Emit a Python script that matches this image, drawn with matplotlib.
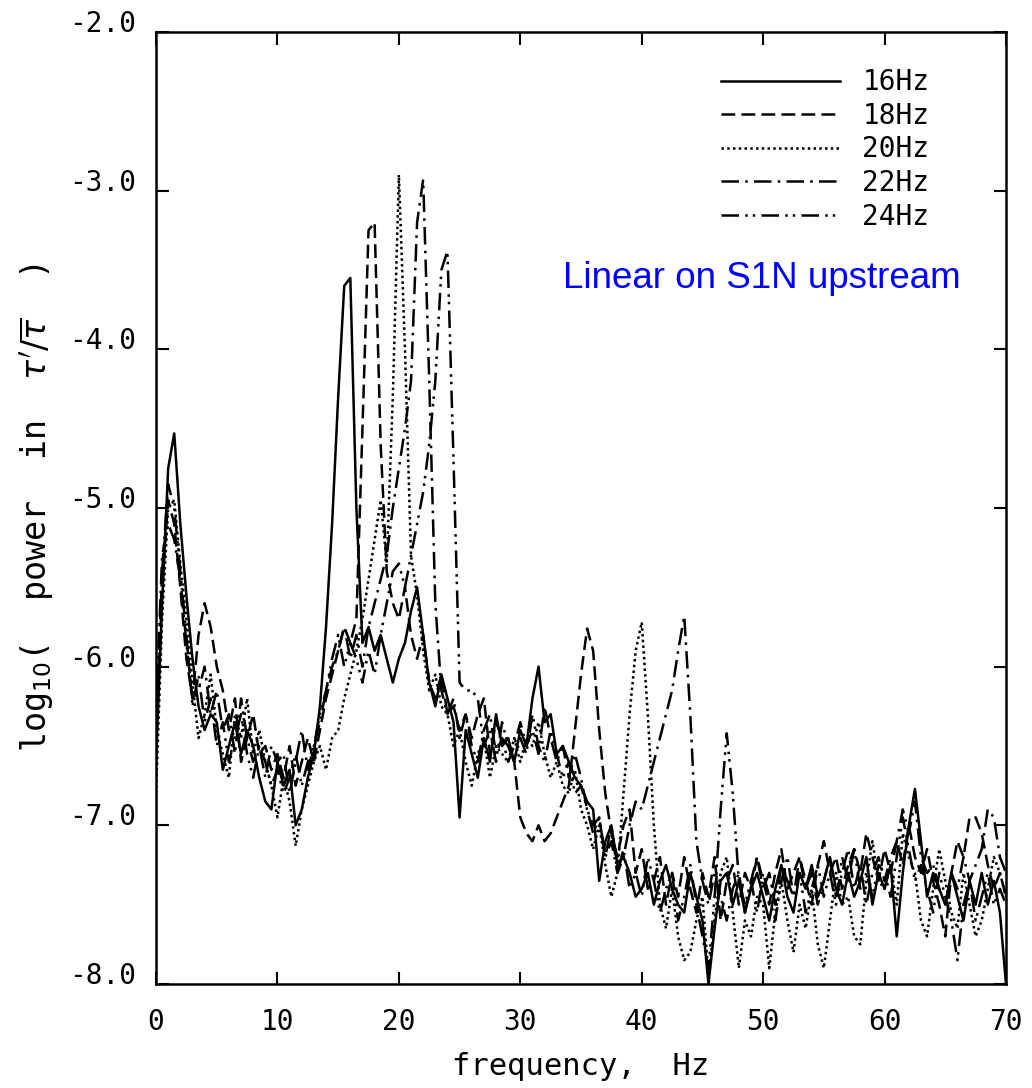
import numpy as np
from matplotlib import pyplot as plt

# frequency axis, 0.5 Hz steps from 0 to 70 Hz
freq = np.arange(0, 70.5, 0.5)

s16 = [-6.6, -5.6, -4.75, -4.53, -5.1, -5.55, -5.95, -6.25, -6.4, -6.3,
       -6.35, -6.65, -6.5, -6.35, -6.55, -6.4, -6.5, -6.7, -6.85, -6.9,
       -6.6, -6.75, -6.65, -7.0, -6.9, -6.7, -6.55, -6.25, -5.75, -5.1,
       -4.3, -3.6, -3.55, -5.0, -5.85, -5.75, -5.9, -5.8, -5.95, -6.1,
       -5.95, -5.85, -5.65, -5.5, -5.8, -6.1, -6.25, -6.05, -6.2, -6.35,
       -6.95, -6.4, -6.55, -6.7, -6.45, -6.6, -6.3, -6.5, -6.45, -6.6,
       -6.4, -6.5, -6.2, -6.0, -6.35, -6.3, -6.55, -6.5, -6.6, -6.7,
       -6.75, -6.85, -6.9, -7.35, -7.1, -7.0, -7.25, -7.2, -7.3, -7.45,
       -7.4, -7.3, -7.5, -7.35, -7.25, -7.4, -7.5, -7.55, -7.3, -7.45,
       -7.6, -8.0, -7.65, -7.35, -7.3, -7.5, -7.35, -7.55, -7.4, -7.3,
       -7.45, -7.6, -7.4, -7.25, -7.45, -7.55, -7.3, -7.4, -7.25, -7.45,
       -7.35, -7.2, -7.4, -7.5, -7.3, -7.45, -7.35, -7.2, -7.5, -7.3,
       -7.4, -7.25, -7.7, -7.3, -7.0, -6.77, -7.1, -7.45, -7.3, -7.4,
       -7.5, -7.3, -7.45, -7.6, -7.35, -7.5, -7.3, -7.5, -7.35, -7.55,
       -8.0]

s18 = [-6.5, -5.5, -4.95, -5.1, -5.5, -5.95, -6.2, -5.8, -5.6, -5.75,
       -6.0, -6.15, -6.4, -6.2, -6.6, -6.45, -6.3, -6.55, -6.5, -6.65,
       -6.55, -6.7, -6.5, -6.75, -6.6, -6.45, -6.6, -6.4, -6.2, -6.05,
       -5.9, -5.75, -5.85, -5.7, -4.5, -3.25, -3.2, -4.6, -5.4, -5.6,
       -5.7, -5.5, -5.8, -5.95, -5.8, -6.1, -6.2, -6.05, -6.3, -6.25,
       -6.4, -6.3, -6.45, -6.3, -6.2, -6.55, -6.35, -6.45, -6.5, -6.6,
       -6.95, -7.05, -7.1, -7.0, -7.1, -7.05, -6.95, -6.85, -6.75, -6.4,
       -6.05, -5.76, -5.9, -6.4, -6.8, -7.05, -7.2, -7.0, -6.9, -7.3,
       -7.15, -7.4, -7.35, -7.2, -7.5, -7.3, -7.45, -7.2, -7.4, -7.55,
       -7.3, -7.45, -7.2, -7.6, -7.35, -7.25, -7.5, -7.3, -7.4, -7.2,
       -7.35, -7.5, -7.3, -7.15, -7.4, -7.3, -7.2, -7.35, -7.5, -7.25,
       -7.1, -7.3, -7.2, -7.4, -7.25, -7.15, -7.3, -7.05, -7.2, -7.35,
       -7.15, -7.3, -7.1, -7.25, -7.0, -7.2, -7.3, -7.15, -7.35, -7.5,
       -7.7, -7.3, -7.1, -7.2, -6.95, -6.95, -7.05, -7.25, -7.4, -7.3,
       -7.45]

s20 = [-6.8, -5.7, -5.0, -4.95, -5.35, -5.7, -6.1, -6.45, -6.3, -6.05,
       -6.4, -6.55, -6.7, -6.3, -6.45, -6.2, -6.55, -6.4, -6.6, -6.75,
       -6.95, -6.7, -6.85, -7.13, -6.9, -6.75, -6.6, -6.5, -6.65, -6.45,
       -6.4, -6.2, -6.05, -5.9, -5.7, -5.45, -5.2, -4.95, -5.35, -4.3,
       -2.9, -4.0, -5.3, -5.55, -5.9, -6.15, -6.05, -6.25, -6.3, -6.5,
       -6.4, -6.6, -6.75, -6.55, -6.45, -6.7, -6.5, -6.55, -6.6, -6.45,
       -6.6, -6.45, -6.5, -6.35, -6.55, -6.7, -6.6, -6.75, -6.8, -6.65,
       -6.9, -7.0, -7.15, -7.0, -7.25, -7.45, -7.3, -6.8, -6.3, -5.9,
       -5.72, -6.3, -7.0, -7.5, -7.65, -7.4, -7.7, -7.85, -7.8, -7.6,
       -7.45, -7.95, -7.6, -7.3, -7.2, -7.55, -7.9, -7.6, -7.7, -7.45,
       -7.5, -7.9, -7.55, -7.35, -7.6, -7.8, -7.5, -7.65, -7.4, -7.75,
       -7.9, -7.6, -7.3, -7.5, -7.45, -7.7, -7.75, -7.35, -7.1, -7.35,
       -7.4, -7.25, -7.5, -7.05, -7.2, -7.3, -7.6, -7.7, -7.4, -7.15,
       -7.35, -7.55, -7.65, -7.3, -7.5, -7.7, -7.6, -7.4, -7.2, -7.3,
       -7.45]

s22 = [-6.3, -5.3, -5.1, -5.2, -5.45, -5.85, -6.2, -6.15, -6.0, -6.3,
       -6.15, -6.4, -6.3, -6.55, -6.2, -6.45, -6.6, -6.5, -6.7, -6.5,
       -6.6, -6.55, -6.8, -6.6, -6.4, -6.65, -6.5, -6.35, -6.15, -6.0,
       -5.9, -5.75, -5.95, -5.8, -6.0, -5.75, -5.6, -5.45, -5.3, -5.0,
       -4.75, -4.5, -4.2, -3.2, -2.93, -4.2, -5.6, -6.15, -6.3, -6.2,
       -6.45, -6.3, -6.5, -6.6, -6.4, -6.3, -6.55, -6.45, -6.6, -6.5,
       -6.35, -6.5, -6.4, -6.55, -6.25, -6.45, -6.6, -6.5, -6.7, -6.55,
       -6.7, -6.9, -7.0, -6.95, -7.2, -7.1, -7.3, -7.2, -7.0, -6.85,
       -6.9, -6.75, -6.6, -6.45, -6.3, -6.15, -5.9, -5.68, -6.3, -7.1,
       -7.35, -7.5, -7.3, -7.45, -7.6, -7.4, -7.3, -7.55, -7.35, -7.2,
       -7.4, -7.3, -7.5, -7.25, -7.35, -7.45, -7.2, -7.4, -7.3, -7.5,
       -7.35, -7.2, -7.45, -7.3, -7.15, -7.4, -7.25, -7.5, -7.3, -7.2,
       -7.35, -7.2, -7.1, -6.9, -7.05, -6.85, -7.2, -7.3, -7.25, -7.4,
       -7.5, -7.3, -7.4, -7.2, -7.35, -7.25, -7.15, -6.9, -6.95, -7.2,
       -7.3]

s24 = [-6.4, -5.4, -4.85, -5.0, -5.4, -5.8, -6.25, -6.05, -6.35, -6.2,
       -6.5, -6.35, -6.6, -6.45, -6.3, -6.55, -6.7, -6.5, -6.6, -6.75,
       -6.65, -6.8, -6.7, -6.55, -6.75, -6.6, -6.5, -6.3, -6.15, -5.95,
       -5.8, -6.0, -5.85, -5.95, -6.1, -5.9, -6.05, -5.8, -5.6, -5.4,
       -5.35, -5.5, -5.3, -5.1, -4.9, -4.6, -4.2, -3.5, -3.38, -4.7,
       -6.1, -6.15, -6.15, -6.2, -6.5, -6.4, -6.6, -6.35, -6.5, -6.6,
       -6.45, -6.55, -6.3, -6.5, -6.6, -6.4, -6.55, -6.7, -6.6, -6.8,
       -6.75, -6.9, -7.05, -6.95, -7.2, -7.0, -7.3, -7.15, -7.4, -7.3,
       -7.45, -7.2, -7.35, -7.55, -7.4, -7.3, -7.6, -7.45, -7.25, -7.5,
       -7.7, -7.9, -7.45, -6.9, -6.42, -6.8, -7.35, -7.5, -7.35, -7.55,
       -7.3, -7.45, -7.6, -7.35, -7.2, -7.45, -7.3, -7.55, -7.4, -7.25,
       -7.45, -7.3, -7.5, -7.2, -7.35, -7.15, -7.4, -7.3, -7.45, -7.25,
       -7.3, -7.45, -7.2, -6.95, -7.15, -7.35, -7.25, -7.4, -7.55, -7.3,
       -7.45, -7.6, -7.85, -7.5, -7.35, -7.6, -7.45, -7.3, -7.5, -7.4,
       -7.5]

labels = ['16Hz', '18Hz', '20Hz', '22Hz', '24Hz']
styles = ['-', (0, (5.5, 2.5)), (0, (1, 1.3)), (0, (7, 2.5, 1, 2.5)),
          (0, (7, 2.5, 1, 2, 1, 2.5))]

fig = plt.figure(figsize=(10.32, 10.88), dpi=100)
ax = fig.add_axes([0.1512, 0.0956, 0.8236, 0.875])

for s, lab, ls in zip([s16, s18, s20, s22, s24], labels, styles):
    ax.plot(freq, s, color='black', linestyle=ls, linewidth=1.8, label=lab)

ax.set_xlim(0, 70)
ax.set_ylim(-8, -2)
ax.set_xticks(range(0, 71, 10))
ax.set_yticks(np.arange(-8, -1.9, 1.0))
ax.set_yticklabels(['%.1f' % v for v in np.arange(-8, -1.9, 1.0)])

mono = 'DejaVu Sans Mono'
ax.tick_params(direction='in', length=9, width=1.5, top=True, right=True,
               labelsize=20)
ax.tick_params(axis='x', pad=17)
ax.tick_params(axis='y', pad=14)
for t in ax.get_xticklabels() + ax.get_yticklabels():
    t.set_family(mono)
for t in ax.get_yticklabels():
    t.set_va('baseline')
for sp in ax.spines.values():
    sp.set_linewidth(1.8)

ax.set_xlabel('frequency,  Hz', family=mono, fontsize=22, labelpad=12)
ax.set_ylabel(r"log$_{10}$(  power  in  $\tau'/\overline{\tau}$  )", family=mono,
              fontsize=24, labelpad=10)

leg = ax.legend(loc='upper left', bbox_to_anchor=(0.685, 0.95),
                bbox_transform=fig.transFigure, frameon=False,
                handlelength=4.3, handletextpad=0.8, labelspacing=0.2,
                borderpad=0, prop={'family': mono, 'size': 20})

ax.text(762, 1088 - 278, 'Linear on S1N upstream', transform=None,
        ha='center', va='center', color='#0000ff', fontsize=26.5,
        family='Liberation Sans')

fig.savefig('out.png', dpi=100)
plt.close(fig)
